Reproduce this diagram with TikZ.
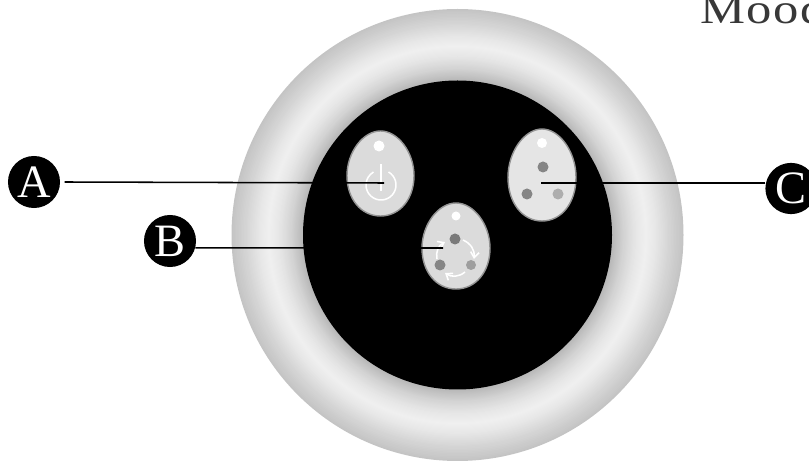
\documentclass[tikz,border=0pt]{standalone}
\usepackage{fontspec}
\setmainfont{Liberation Serif}
\usepackage{tikz}
\usetikzlibrary{arrows.meta}

\newcommand{\eggpath}{(-1,0.05) .. controls (-1,-0.5) and (-0.52,-1) .. (0,-1)
  .. controls (0.52,-1) and (1,-0.5) .. (1,0.05)
  .. controls (1,0.6) and (0.58,1) .. (0,1)
  .. controls (-0.58,1) and (-1,0.6) .. (-1,0.05) -- cycle}

\tikzset{
  badge/.style={circle, fill=black, text=white, inner sep=0pt, minimum size=1.3cm, font=\fontsize{33}{33}\selectfont},
  eggbody/.style={draw=black!42, line width=1pt},
  leader/.style={black, line width=1.1pt},
  glyph/.style={white, line width=1.1pt},
  cyclearrow/.style={white, line width=1.1pt, -{Straight Barb[length=4pt,width=6pt]}}
}

\begin{document}
\begin{tikzpicture}[x=0.025cm,y=-0.025cm]
        \useasboundingbox (0,0) rectangle (809,464);

        % Coordinates
        \coordinate (O) at (457.5,235);
        \coordinate (eggA) at (380.5,173.5);
        \coordinate (eggB) at (456,246);
        \coordinate (eggC) at (542,175);
        \coordinate (endA) at (384,183);
        \coordinate (endB) at (443,248);
        \coordinate (endC) at (541,183);
        \coordinate (power) at (381,185);
        \coordinate (arcA) at (463,240);
        \coordinate (arcB) at (474,259);
        \coordinate (arcC) at (465,272);
        \coordinate (arcD) at (445,273);
        \coordinate (arcE) at (437,259);
        \coordinate (arcF) at (445,242);

        % Ring and face
        \foreach \ra/\ga/\rb/\gb in {226/23/211/16, 211/16/200/10, 200/10/189/6, 189/6/178/10, 178/10/167/17, 167/17/155/28} {
          \foreach \t in {0,0.1,...,1.01} {
            \pgfmathsetmacro{\rr}{\ra+(\rb-\ra)*\t}
            \pgfmathsetmacro{\gg}{\ga+(\gb-\ga)*\t}
            \fill[black!\gg] (O) circle (\rr);
          }
        }
        \fill[black] (O) circle (154.5);

        % Eggs
        \draw[eggbody, fill=black!14, shift={(eggA)}, xscale=33.5, yscale=42.5] \eggpath;
        \draw[eggbody, fill=black!14, shift={(eggB)}, xscale=34, yscale=43] \eggpath;
        \draw[eggbody, fill=black!10, shift={(eggC)}, xscale=34, yscale=46] \eggpath;

        % Dots
        \fill[white] (379,146) circle (5.5);
        \fill[white] (456,216) circle (4.5);
        \fill[white] (542,143) circle (5);
        \fill[black!52] (455,239) circle (5.5);
        \fill[black!48] (440,265) circle (5.5);
        \fill[black!38] (471,265) circle (5);
        \fill[black!48] (543,167) circle (5.5);
        \fill[black!48] (527,194) circle (5.5);
        \fill[black!32] (558,194) circle (5.5);

        % Power sign
        \draw[glyph] (power) ++(-60:15) arc[start angle=-60, end angle=240, radius=15];
        \draw[glyph, line width=1.5pt] (381,164) -- (381,191);

        % Cycle arrows
        \draw[cyclearrow] (arcA) to[bend left=37] (arcB);
        \draw[cyclearrow] (arcC) to[bend left=37] (arcD);
        \draw[cyclearrow] (arcE) to[bend left=37] (arcF);

        % Badges
        \node[badge] (badgeA) at (34,182) {A};
        \node[badge] (badgeB) at (170,241) {B};
        \node[badge, minimum size=1.28cm] (badgeC) at (791,188.5) {C};

        % Leaders
        \draw[leader] ([xshift=3]badgeA.east) -- (endA);
        \draw[leader] (badgeB.-15) -- (endB);
        \draw[leader] (endC) -- (endC -| badgeC.west);

        % Title
        \node[anchor=base west, inner sep=0pt, xscale=1.2, text=black!78] (title) at (700,24)
          {\fontsize{30}{30}\addfontfeature{LetterSpace=3}\selectfont Mood};
\end{tikzpicture}
\end{document}
